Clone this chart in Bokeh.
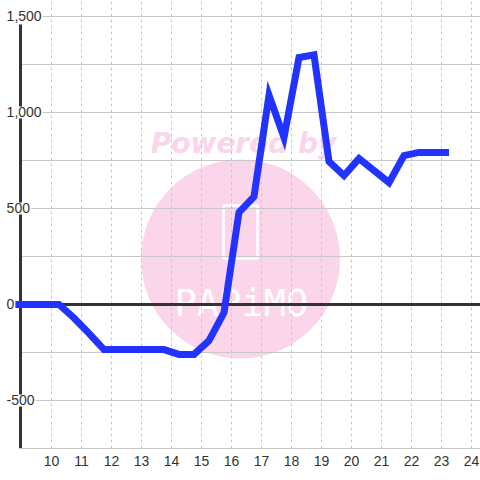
from bokeh.plotting import figure
from bokeh.models import Range1d, FixedTicker, Label
from bokeh.core.properties import value
from bokeh.embed import file_html
from bokeh.resources import INLINE

# ---- data ----
hours = [8.75, 9.25, 9.75, 10.25, 10.75, 11.25, 11.75, 12.25, 12.75, 13.25,
         13.75, 14.25, 14.75, 15.25, 15.75, 16.25, 16.75, 17.25, 17.75, 18.25,
         18.75, 19.25, 19.75, 20.25, 20.75, 21.25, 21.75, 22.25, 22.75, 23.25]
values = [0, 0, 0, 0, -70, -150, -235, -235, -235, -235,
          -235, -260, -260, -188, -42, 480, 562, 1090, 870, 1286,
          1300, 745, 672, 760, 698, 635, 776, 792, 792, 792]
x_ticks = [10, 11, 12, 13, 14, 15, 16, 17, 18, 19, 20, 21, 22, 23, 24]
y_label_ticks = [-500, 0, 500, 1000, 1500]
y_grid_ticks = [-500, -250, 250, 500, 750, 1000, 1250, 1500]

# ---- layout constants ----
X_START, X_END = 8.3, 24.3
Y_START, Y_END = -750, 1583.3
AXIS_X = 8.967
AXIS_TOP = 1458
LABEL_X = 8.47

FONT = "Liberation Sans"
TXT = "#333333"
GRID = "#c8c8c8"
PINK = "#fbd5ea"

p = figure(width=480, height=480,
           x_range=Range1d(X_START, X_END), y_range=Range1d(Y_START, Y_END),
           output_backend="svg", toolbar_location=None,
           min_border_left=0, min_border_right=0, min_border_top=0,
           min_border_bottom=32,
           background_fill_color="white", border_fill_color="white",
           outline_line_color=None)

p.yaxis.visible = False
p.ygrid.visible = False

p.xaxis.ticker = FixedTicker(ticks=x_ticks)
p.xaxis.bounds = (AXIS_X, X_END)
p.xaxis.axis_line_color = GRID
p.xaxis.axis_line_width = 1
p.xaxis.major_tick_line_color = None
p.xaxis.minor_tick_line_color = None
p.xaxis.major_tick_out = 0
p.xaxis.major_tick_in = 0
p.xaxis.major_label_standoff = 7
p.xaxis.major_label_text_font = FONT
p.xaxis.major_label_text_font_size = "14px"
p.xaxis.major_label_text_color = TXT
p.xgrid.grid_line_color = GRID
p.xgrid.grid_line_dash = "3 3"

# ---- watermark (under the grid) ----
p.scatter(x=[16.3], y=[237], size=199, marker="circle", fill_color=PINK,
          line_color=None, level="image")
p.text(x=[16.4], y=[838], text=["Powered by"], text_font=value("DejaVu Sans"),
       text_font_style="bold italic", text_font_size="28px", text_color=PINK,
       text_align="center", text_baseline="alphabetic", level="image")
p.rect(x=[16.3], y=[377], width=34, height=53, width_units="screen",
       height_units="screen", fill_color=None, line_color="white",
       line_width=2.5, level="image")
p.text(x=[16.33], y=[5], text=["PAPiMO"], text_font=value("DejaVu Sans Mono"),
       text_font_size="37px", text_color="white", text_align="center",
       text_baseline="alphabetic", level="image")

# ---- horizontal grid, zero line and axis line ----
p.segment(x0=[AXIS_X] * len(y_grid_ticks), y0=y_grid_ticks,
          x1=[X_END] * len(y_grid_ticks), y1=y_grid_ticks,
          line_color=GRID, line_width=1)
p.segment(x0=[AXIS_X], y0=[0], x1=[X_END], y1=[0],
          line_color=TXT, line_width=3)
p.segment(x0=[AXIS_X], y0=[Y_START], x1=[AXIS_X], y1=[AXIS_TOP],
          line_color=TXT, line_width=3)

# ---- data line ----
p.line(hours, values, line_color="#2233ff", line_width=7,
       line_join="miter", line_cap="butt")

# ---- y tick labels ----
for v in y_label_ticks:
    p.add_layout(Label(x=LABEL_X, y=v, text=f"{v:,}", text_align="left",
                       text_baseline="middle", text_font=FONT,
                       text_font_size="14px", text_color=TXT,
                       background_fill_color="white", padding=1))

open("out.html", "w").write(file_html(p, INLINE))
